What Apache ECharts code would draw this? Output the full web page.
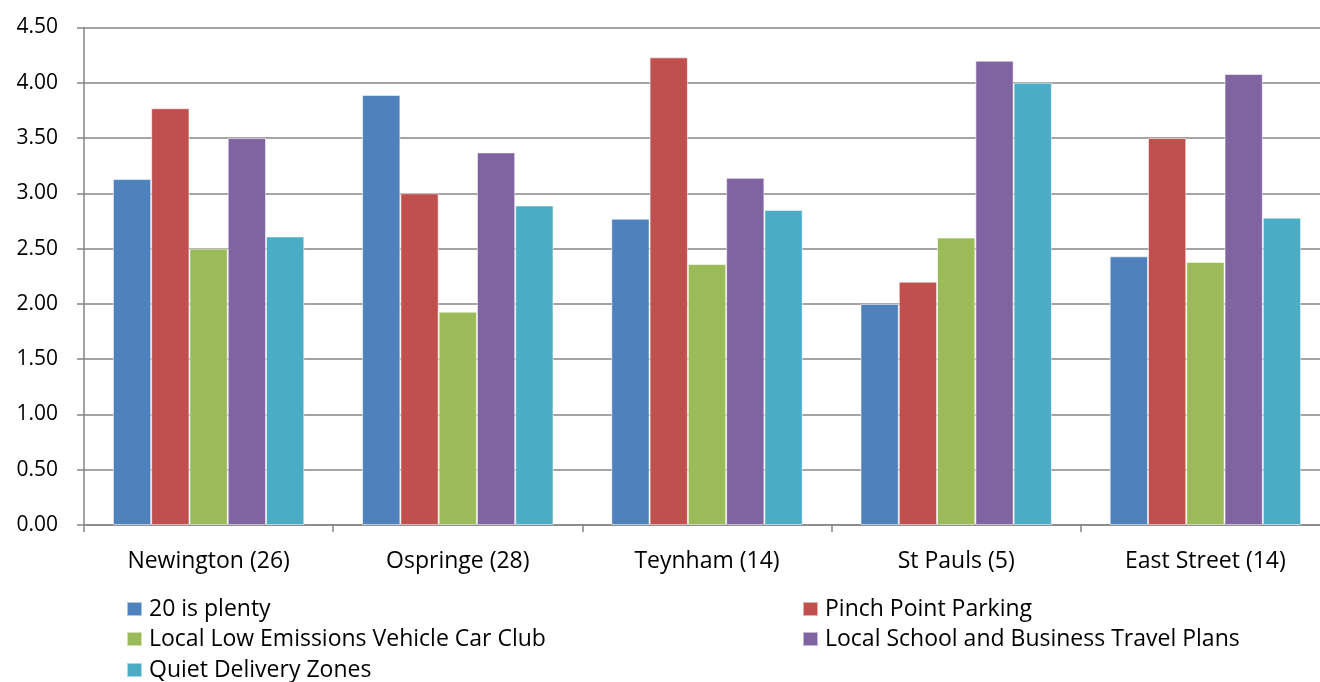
<!DOCTYPE html>
<html>
<head>
<meta charset="utf-8">
<script src="https://cdn.jsdelivr.net/npm/echarts@6/dist/echarts.min.js"></script>
<style>
  html, body { margin: 0; padding: 0; background: #fff; overflow: hidden; }
  /* the plot runs a little past the right edge of the page */
  #chart { width: 1345px; height: 682px; }
</style>
</head>
<body>
<div id="chart"></div>
<script>
// Ward names with number of respondents
const categories = ['Newington (26)', 'Ospringe (28)', 'Teynham (14)', 'St Pauls (5)', 'East Street (14)'];

// Average score per measure, one value per ward
const twentyIsPlenty      = [3.13, 3.89, 2.77, 2.00, 2.43];
const pinchPointParking   = [3.77, 3.00, 4.23, 2.20, 3.50];
const lowEmissionCarClub  = [2.50, 1.93, 2.36, 2.60, 2.38];
const schoolTravelPlans   = [3.50, 3.37, 3.14, 4.20, 4.08];
const quietDeliveryZones  = [2.61, 2.89, 2.85, 4.00, 2.78];

const seriesNames = [
  '20 is plenty',
  'Pinch Point Parking',
  'Local Low Emissions Vehicle Car Club',
  'Local School and Business Travel Plans',
  'Quiet Delivery Zones'
];
const seriesValues = [twentyIsPlenty, pinchPointParking, lowEmissionCarClub, schoolTravelPlans, quietDeliveryZones];
const colors = ['#4F81BD', '#C0504D', '#9BBB59', '#8064A2', '#4BACC6'];

const yTicks = { min: 0, max: 4.5, interval: 0.5 };

const FONT = "'Open Sans', 'Noto Sans', sans-serif";
const TEXT = '#000';

const chart = echarts.init(document.getElementById('chart'), null, { renderer: 'canvas' });

// Legend entries sit in two columns below the plot
const legendSlots = [
  { left: 126, top: 596 },  // 20 is plenty
  { left: 802, top: 596 },  // Pinch Point Parking
  { left: 126, top: 626 },  // Local Low Emissions Vehicle Car Club
  { left: 802, top: 626 },  // Local School and Business Travel Plans
  { left: 126, top: 657 }   // Quiet Delivery Zones
];
const legends = seriesNames.map((name, i) => ({
  left: legendSlots[i].left,
  top: legendSlots[i].top,
  orient: 'horizontal',
  icon: 'rect',
  itemWidth: 15,
  itemHeight: 14,
  padding: 0,
  textStyle: { fontFamily: FONT, fontSize: 23, color: TEXT, lineHeight: 26, padding: [0, 0, 0, 2] },
  data: [name]
}));

chart.setOption({
  animation: false,
  color: colors,
  grid: { left: 84, top: 27.5, width: 1246, height: 497.5, containLabel: false },
  legend: legends,
  xAxis: {
    type: 'category',
    data: categories,
    axisLine: { lineStyle: { color: '#868686', width: 1.5 } },
    axisTick: { show: true, length: 7, interval: 0, lineStyle: { color: '#868686', width: 1.5 } },
    axisLabel: { fontFamily: FONT, fontSize: 23, color: TEXT, margin: 25, interval: 0 },
    splitLine: { show: false }
  },
  yAxis: {
    type: 'value',
    min: yTicks.min, max: yTicks.max, interval: yTicks.interval,
    axisLine: { show: true, lineStyle: { color: '#868686', width: 1.5 } },
    axisTick: { show: true, length: 7, lineStyle: { color: '#868686', width: 1.5 } },
    axisLabel: {
      fontFamily: FONT, fontSize: 21, color: TEXT, margin: 26,
      formatter: v => v.toFixed(2)
    },
    splitLine: { show: true, lineStyle: { color: '#868686', width: 1.5 } }
  },
  series: seriesNames.map((name, i) => ({
    name,
    type: 'bar',
    data: seriesValues[i],
    barGap: '0%',
    barCategoryGap: '23.2%',
    itemStyle: { color: colors[i], borderColor: 'rgba(255,255,255,0.55)', borderWidth: 1 }
  }))
});
</script>
</body>
</html>
